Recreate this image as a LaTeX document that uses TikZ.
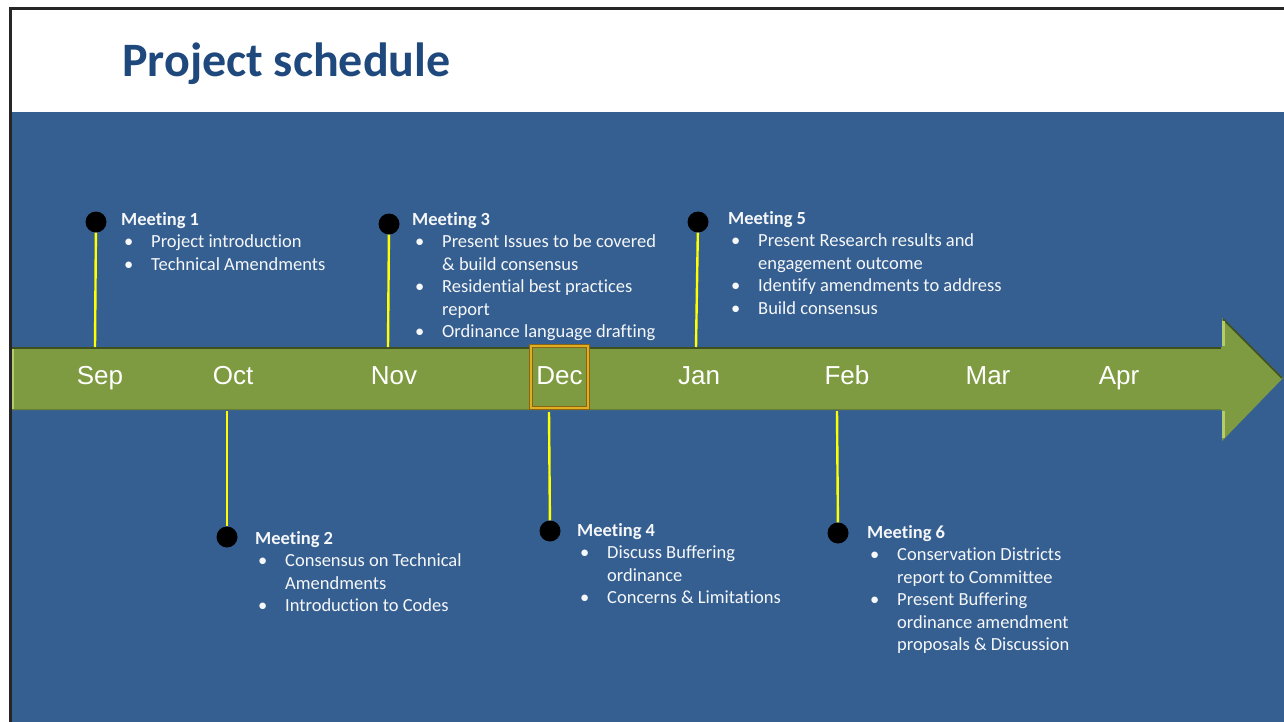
\documentclass[tikz,border=0pt]{standalone}
\usepackage{fontspec}
\setmainfont{Carlito}[Ligatures=NoCommon]
\newfontfamily\monthfont{Liberation Sans}
\definecolor{slideblue}{HTML}{365F91}
\definecolor{titleblue}{HTML}{1F497D}
\definecolor{arrowgreen}{HTML}{7F9B41}
\definecolor{arrowdark}{HTML}{3F4F1E}
\definecolor{arrowlight}{HTML}{B4CC6C}
\definecolor{decgold}{HTML}{E0AE22}
\definecolor{decbrown}{HTML}{8A6410}
\definecolor{stemyellow}{HTML}{FFFF00}

\newcommand{\mhead}[1]{\multicolumn{2}{@{}l@{}}{\bfseries #1}}
\newcommand{\bul}{\hspace*{3pt}\textbullet}

\begin{document}
\begin{tikzpicture}
[
x=1pt,y=-1pt,
month/.style={text=white,font=\monthfont\fontsize{26}{28}\selectfont,inner sep=0pt,anchor=base},
decbox/.style={month,anchor=center,text height=19pt,text depth=5pt,fill=arrowgreen,draw=decbrown,double=decgold,double distance=1.8pt,line width=1.1pt,minimum width=57pt,minimum height=62pt},
dot/.style={circle,fill=black,minimum size=21pt,inner sep=0pt},
stem/.style={stemyellow,line width=2.4pt},
meeting/.style={anchor=base west,inner sep=0pt,text=white!95!slideblue,font=\fontsize{18.5}{22.5}\selectfont},
]
\useasboundingbox (0,0) rectangle (1284,722);

%Slide background and title
\fill[white] (0,0) rectangle (1284,722);
\fill[slideblue] (12,112) rectangle (1284,722);
\draw[line width=3pt,black!85] (10,722) -- (10,9) -- (1284,9);
\node[anchor=base west,inner sep=0pt,text=titleblue,font=\bfseries\fontsize{48}{56}\selectfont] (title) at (122,77) {Project schedule};

%The time arrow
\fill[arrowgreen] (12,347) -- (1222,347) -- (1222,318) -- (1283,378) -- (1222,441) -- (1222,410) -- (12,410) -- cycle;
\draw[arrowdark,line width=2pt] (12,348) -- (1221,348);
\draw[arrowdark,line width=1.5pt] (1223,319) -- (1282,378);
\draw[arrowlight,line width=3pt] (1223,321) -- (1223,346) (1223,411) -- (1223,438);
\draw[arrowlight,line width=2pt] (13,349) -- (13,409);
\draw[arrowgreen!80!black,line width=1pt] (12,409.5) -- (1221,409.5);

%Place the months
\node[month] (sep) at (100,384.5) {Sep};
\node[month] (oct) at (233,384.5) {Oct};
\node[month] (nov) at (394,384.5) {Nov};
\node[decbox] (dec) at (559.5,377) {Dec};
\node[month] (jan) at (699,384.5) {Jan};
\node[month] (feb) at (847,384.5) {Feb};
\node[month] (mar) at (988,384.5) {Mar};
\node[month] (apr) at (1119,384.5) {Apr};

%Place the pins
\node[dot] (d1) at (96,222) {};
\node[dot] (d3) at (389,224) {};
\node[dot] (d5) at (698,222) {};
\node[dot] (d2) at (227,537) {};
\node[dot] (d4) at (550,531) {};
\node[dot] (d6) at (838,533) {};
\coordinate (s1) at (95,347);
\coordinate (s3) at (388,347);
\coordinate (s5) at (696,347);
\coordinate (s2) at (227,411);
\coordinate (s4) at (549,412);
\coordinate (s6) at (837,411);

%Draw the stems
\draw[stem] (d1) -- (s1);
\draw[stem] (d3) -- (s3);
\draw[stem] (d5) -- (s5);
\draw[stem] (d2) -- (s2);
\draw[stem] (d4) -- (s4);
\draw[stem] (d6) -- (s6);

%Meeting notes
\node[meeting] (m1) at (121,225) {\begin{tabular}[t]{@{}p{30pt}@{}l@{}}
\mhead{Meeting 1}\\
\bul & Project introduction\\
\bul & Technical Amendments
\end{tabular}};
\node[meeting] (m3) at (412,225) {\begin{tabular}[t]{@{}p{30pt}@{}l@{}}
\mhead{Meeting 3}\\
\bul & Present Issues to be covered\\
 & \& build consensus\\
\bul & Residential best practices\\
 & report\\
\bul & Ordinance language drafting
\end{tabular}};
\node[meeting] (m5) at (728,224) {\begin{tabular}[t]{@{}p{30pt}@{}l@{}}
\mhead{Meeting 5}\\
\bul & Present Research results and\\
 & engagement outcome\\
\bul & Identify amendments to address\\
\bul & Build consensus
\end{tabular}};
\node[meeting] (m2) at (255,544) {\begin{tabular}[t]{@{}p{30pt}@{}l@{}}
\mhead{Meeting 2}\\
\bul & Consensus on Technical\\
 & Amendments\\
\bul & Introduction to Codes
\end{tabular}};
\node[meeting] (m4) at (577,536) {\begin{tabular}[t]{@{}p{30pt}@{}l@{}}
\mhead{Meeting 4}\\
\bul & Discuss Buffering\\
 & ordinance\\
\bul & Concerns \& Limitations
\end{tabular}};
\node[meeting] (m6) at (867,538) {\begin{tabular}[t]{@{}p{30pt}@{}l@{}}
\mhead{Meeting 6}\\
\bul & Conservation Districts\\
 & report to Committee\\
\bul & Present Buffering\\
 & ordinance amendment\\
 & proposals \& Discussion
\end{tabular}};
\end{tikzpicture}
\end{document}
